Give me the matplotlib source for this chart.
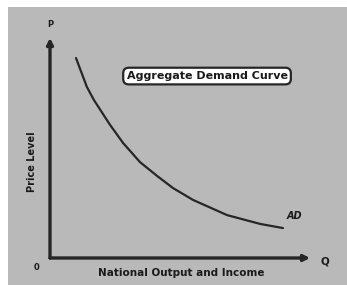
import matplotlib.pyplot as plt
from matplotlib.patches import Rectangle

# Curva AD (Q = produto, P = nível de preços)
output_q = [10.0, 14.2, 16.9, 23.1, 28.1, 34.6, 41.2, 47.3, 55.0, 68.1, 80.8, 89.6]
price_p = [90.9, 77.7, 71.8, 60.5, 52.3, 43.6, 37.3, 31.8, 26.4, 19.5, 15.5, 13.6]

titulo = "Aggregate Demand Curve"
rotulo_x = "National Output and Income"
rotulo_y = "Price Level"

W, H = 347, 285
fig = plt.figure(figsize=(W / 100, H / 100), dpi=100)
fig.patch.set_facecolor("white")

# fundo cinza (foto escaneada)
fundo = Rectangle((8 / W, 0), 1 - 8 / W, 1 - 7 / H, transform=fig.transFigure,
                  facecolor="#b9b9b9", edgecolor="none", zorder=-5)
fig.patches.append(fundo)

ax = fig.add_axes([50 / W, (H - 258) / H, 260 / W, 220 / H])
ax.set_zorder(2)
ax.set_xlim(0, 100)
ax.set_ylim(0, 100)
ax.patch.set_alpha(0)
for s in ax.spines.values():
    s.set_visible(False)
ax.set_xticks([])
ax.set_yticks([])

cor = "#262626"
seta = dict(arrowstyle="-|>,head_length=0.35,head_width=0.18", color=cor, lw=2.4,
            shrinkA=0, shrinkB=0)
ax.annotate("", xy=(0, 100), xytext=(0, 0), arrowprops=seta, annotation_clip=False)
ax.annotate("", xy=(100, 0), xytext=(0, 0), arrowprops=seta, annotation_clip=False)

ax.plot(output_q, price_p, color=cor, lw=1.6, solid_capstyle="round")

fonte = dict(family="DejaVu Sans", fontweight="bold", color="#1a1a1a")
ax.text(91, 17.0, "AD", fontsize=7, fontstyle="italic", ha="left", va="bottom", **fonte)
ax.text(0, 104, "P", fontsize=6, ha="center", va="bottom", **fonte)
ax.text(104, -1.5, "Q", fontsize=7.5, ha="left", va="center", **fonte)
ax.text(-5, -4.5, "0", fontsize=6, ha="center", va="center", **fonte)
ax.text(50.5, -6.8, rotulo_x, fontsize=7.5, ha="center", va="center", **fonte)
ax.text(-6.8, 44, rotulo_y, fontsize=7, rotation=90, ha="center", va="center", **fonte)
ax.text(60.4, 82.7, titulo, fontsize=8, ha="center", va="center", **fonte,
        bbox=dict(boxstyle="round,pad=0.3,rounding_size=0.5", facecolor="white",
                  edgecolor=cor, lw=1.6))

fig.savefig("out.png", dpi=100)
